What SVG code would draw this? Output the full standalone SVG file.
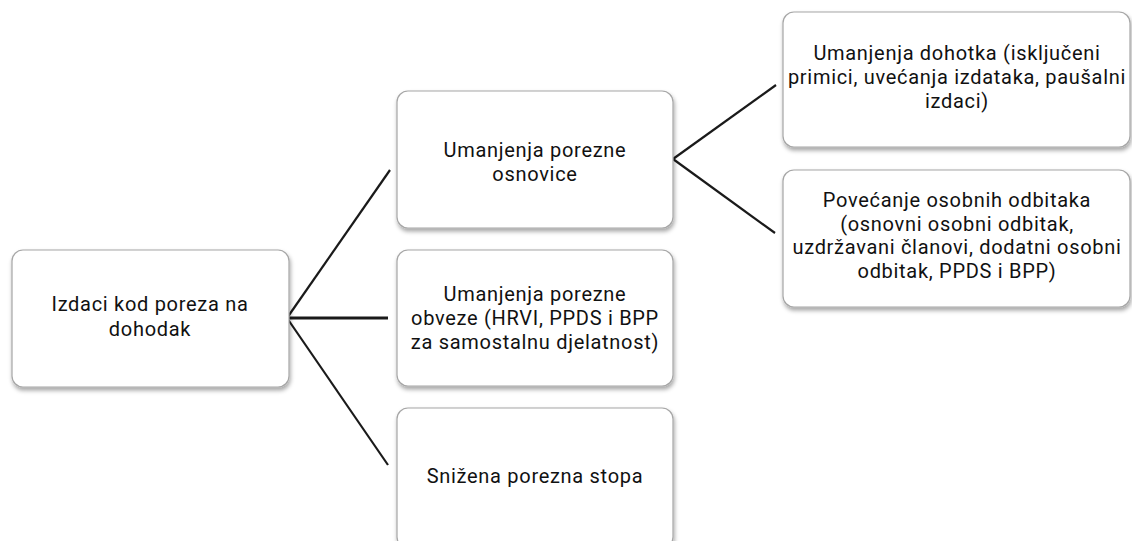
<svg xmlns="http://www.w3.org/2000/svg" width="1132" height="541" viewBox="0 0 1132 541">
<defs>
<filter id="sh" x="-10%" y="-10%" width="125%" height="130%">
<feDropShadow dx="1" dy="3" stdDeviation="2" flood-color="#000" flood-opacity="0.35"/>
</filter>
<style>
.box{fill:#fff;stroke:#a6a6a6;stroke-width:1.2;filter:url(#sh)}
.t{font-family:Roboto,"Liberation Sans",sans-serif;font-size:20px;letter-spacing:0.7px;fill:#111;text-anchor:middle}
.c{stroke:#1a1a1a;stroke-width:2.2;fill:none;stroke-linecap:butt}
</style>
</defs>
<rect width="1132" height="541" fill="#fff"/>
<g id="connectors">
<line class="c" x1="287" y1="318" x2="390" y2="170"/>
<line class="c" x1="287" y1="318" x2="388" y2="318" style="stroke-width:3.2"/>
<line class="c" x1="287" y1="318" x2="388" y2="465"/>
<line class="c" x1="673" y1="159" x2="776" y2="85"/>
<line class="c" x1="673" y1="159" x2="775" y2="233"/>
</g>
<g id="n0">
<rect class="box" x="12" y="250" width="277" height="137" rx="11"/>
<text class="t" x="150" y="311">Izdaci kod poreza na</text>
<text class="t" x="150" y="336">dohodak</text>
</g>
<g id="n1">
<rect class="box" x="397" y="91" width="276" height="137" rx="11"/>
<text class="t" x="535" y="157">Umanjenja porezne</text>
<text class="t" x="535" y="181">osnovice</text>
</g>
<g id="n2">
<rect class="box" x="397" y="250" width="276" height="136" rx="11"/>
<text class="t" x="535" y="301">Umanjenja porezne</text>
<text class="t" x="535" y="325">obveze (HRVI, PPDS i BPP</text>
<text class="t" x="535" y="349">za samostalnu djelatnost)</text>
</g>
<g id="n3">
<rect class="box" x="397" y="408" width="276" height="140" rx="11"/>
<text class="t" x="535" y="483">Snižena porezna stopa</text>
</g>
<g id="n4">
<rect class="box" x="783" y="12" width="347" height="135" rx="11"/>
<text class="t" x="957" y="60">Umanjenja dohotka (isključeni</text>
<text class="t" x="957" y="84">primici, uvećanja izdataka, paušalni</text>
<text class="t" x="957" y="108">izdaci)</text>
</g>
<g id="n5">
<rect class="box" x="783" y="170" width="347" height="137" rx="11"/>
<text class="t" x="957" y="207">Povećanje osobnih odbitaka</text>
<text class="t" x="957" y="230.5">(osnovni osobni odbitak,</text>
<text class="t" x="957" y="254">uzdržavani članovi, dodatni osobni</text>
<text class="t" x="957" y="277.5">odbitak, PPDS i BPP)</text>
</g>
</svg>
